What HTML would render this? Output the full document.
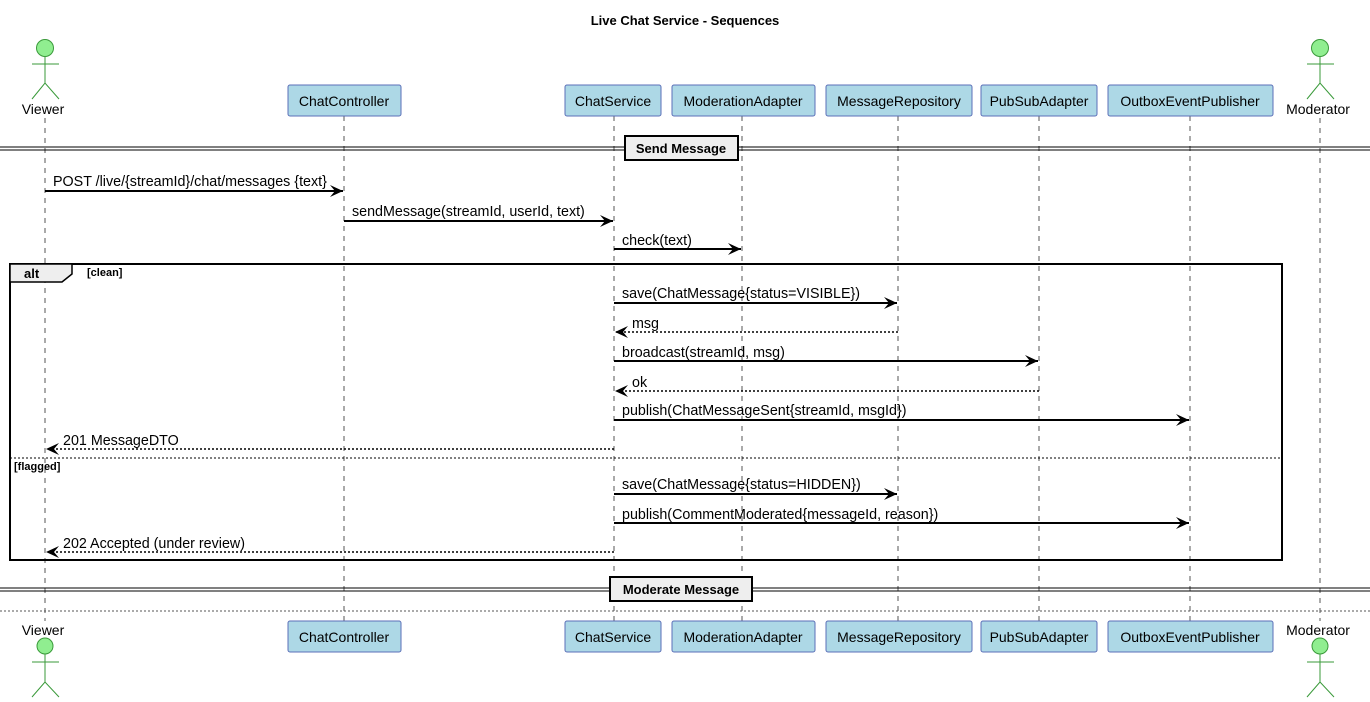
<!DOCTYPE html>
<html><head><meta charset="utf-8"><style>
html,body{margin:0;padding:0;background:#fff}
svg{display:block}
text{font-family:"Liberation Sans",sans-serif;font-size:14.3px;fill:#000}
.p{font-size:14px}
.b{font-weight:bold;font-size:13px}
.ll{stroke:#555;stroke-width:1;stroke-dasharray:5,5}
.box{fill:#add8e6;stroke:#5b6fb8;stroke-width:1}
.m{stroke:#000;stroke-width:2}
.r{stroke:#000;stroke-width:1.6;stroke-dasharray:2,2}
.act{stroke:#3a9a3a;fill:none;stroke-width:1}
</style></head><body>
<svg width="1370" height="702" viewBox="0 0 1370 702" xmlns="http://www.w3.org/2000/svg">
<defs>
<marker id="a" markerWidth="14" markerHeight="12" refX="13" refY="6" orient="auto" markerUnits="userSpaceOnUse">
<path d="M0,0 L13,6 L0,12 L5,6 Z" fill="#000"/></marker>
</defs>
<text x="685" y="25" text-anchor="middle" class="b">Live Chat Service - Sequences</text>

<g class="ll">
<line x1="45" y1="118" x2="45" y2="621"/>
<line x1="344" y1="116" x2="344" y2="621"/>
<line x1="614" y1="116" x2="614" y2="621"/>
<line x1="742" y1="116" x2="742" y2="621"/>
<line x1="898" y1="116" x2="898" y2="621"/>
<line x1="1039" y1="116" x2="1039" y2="621"/>
<line x1="1190" y1="116" x2="1190" y2="621"/>
<line x1="1320" y1="118" x2="1320" y2="621"/>
</g>

<g>
<rect class="box" x="288" y="85" width="113" height="31" rx="2"/><text class="p" x="344" y="106" text-anchor="middle">ChatController</text>
<rect class="box" x="565" y="85" width="96" height="31" rx="2"/><text class="p" x="613" y="106" text-anchor="middle">ChatService</text>
<rect class="box" x="672" y="85" width="143" height="31" rx="2"/><text class="p" x="743" y="106" text-anchor="middle">ModerationAdapter</text>
<rect class="box" x="826" y="85" width="146" height="31" rx="2"/><text class="p" x="899" y="106" text-anchor="middle">MessageRepository</text>
<rect class="box" x="981" y="85" width="116" height="31" rx="2"/><text class="p" x="1039" y="106" text-anchor="middle">PubSubAdapter</text>
<rect class="box" x="1108" y="85" width="165" height="31" rx="2"/><text class="p" x="1190" y="106" text-anchor="middle">OutboxEventPublisher</text>
</g>
<g>
<rect class="box" x="288" y="621" width="113" height="31" rx="2"/><text class="p" x="344" y="642" text-anchor="middle">ChatController</text>
<rect class="box" x="565" y="621" width="96" height="31" rx="2"/><text class="p" x="613" y="642" text-anchor="middle">ChatService</text>
<rect class="box" x="672" y="621" width="143" height="31" rx="2"/><text class="p" x="743" y="642" text-anchor="middle">ModerationAdapter</text>
<rect class="box" x="826" y="621" width="146" height="31" rx="2"/><text class="p" x="899" y="642" text-anchor="middle">MessageRepository</text>
<rect class="box" x="981" y="621" width="116" height="31" rx="2"/><text class="p" x="1039" y="642" text-anchor="middle">PubSubAdapter</text>
<rect class="box" x="1108" y="621" width="165" height="31" rx="2"/><text class="p" x="1190" y="642" text-anchor="middle">OutboxEventPublisher</text>
</g>

<g>
<circle cx="45" cy="48" r="8.5" fill="#90ee90" stroke="#3a9a3a"/>
<path class="act" d="M45,57 V83 M32,64 H59 M32,99 L45,83 L59,99"/>
<text class="p" x="43" y="114" text-anchor="middle">Viewer</text>
<circle cx="1320" cy="48" r="8.5" fill="#90ee90" stroke="#3a9a3a"/>
<path class="act" d="M1320,57 V83 M1307,64 H1334 M1307,99 L1320,83 L1334,99"/>
<text class="p" x="1318" y="114" text-anchor="middle">Moderator</text>

<text class="p" x="43" y="635" text-anchor="middle">Viewer</text>
<circle cx="45" cy="646" r="8" fill="#90ee90" stroke="#3a9a3a"/>
<path class="act" d="M45,654 V682 M32,662 H59 M32,697 L45,682 L59,697"/>
<text class="p" x="1318" y="635" text-anchor="middle">Moderator</text>
<circle cx="1320" cy="646" r="8" fill="#90ee90" stroke="#3a9a3a"/>
<path class="act" d="M1320,654 V682 M1307,662 H1334 M1307,697 L1320,682 L1334,697"/>
</g>

<line x1="0" y1="147" x2="1370" y2="147" stroke="#000"/>
<line x1="0" y1="150" x2="1370" y2="150" stroke="#000"/>
<rect x="625" y="136" width="113" height="24" fill="#eee" stroke="#000" stroke-width="2"/>
<text x="681" y="153" text-anchor="middle" class="b">Send Message</text>

<line class="m" x1="45" y1="191" x2="343" y2="191" marker-end="url(#a)"/>
<text x="53" y="186">POST /live/{streamId}/chat/messages {text}</text>
<line class="m" x1="344" y1="221" x2="613" y2="221" marker-end="url(#a)"/>
<text x="352" y="216">sendMessage(streamId, userId, text)</text>
<line class="m" x1="614" y1="249" x2="741" y2="249" marker-end="url(#a)"/>
<text x="622" y="245">check(text)</text>

<rect x="10" y="264" width="1272" height="296" fill="none" stroke="#000" stroke-width="2"/>
<path d="M10,264 H72 V274 L62,282 H10 Z" fill="#eee" stroke="#000" stroke-width="1.5"/>
<text x="24" y="278" class="b">alt</text>
<text x="87" y="276" class="b" style="font-size:11px">[clean]</text>

<line class="m" x1="614" y1="303" x2="897" y2="303" marker-end="url(#a)"/>
<text x="622" y="298">save(ChatMessage{status=VISIBLE})</text>
<line class="r" x1="898" y1="332" x2="615" y2="332" marker-end="url(#a)"/>
<text x="632" y="328">msg</text>
<line class="m" x1="614" y1="361" x2="1038" y2="361" marker-end="url(#a)"/>
<text x="622" y="357">broadcast(streamId, msg)</text>
<line class="r" x1="1039" y1="391" x2="615" y2="391" marker-end="url(#a)"/>
<text x="632" y="387">ok</text>
<line class="m" x1="614" y1="420" x2="1189" y2="420" marker-end="url(#a)"/>
<text x="622" y="415">publish(ChatMessageSent{streamId, msgId})</text>
<line class="r" x1="614" y1="449" x2="46" y2="449" marker-end="url(#a)"/>
<text x="63" y="445">201 MessageDTO</text>

<line x1="10" y1="458" x2="1282" y2="458" stroke="#000" stroke-dasharray="2,2"/>
<text x="14" y="470" class="b" style="font-size:11px">[flagged]</text>

<line class="m" x1="614" y1="494" x2="897" y2="494" marker-end="url(#a)"/>
<text x="622" y="489">save(ChatMessage{status=HIDDEN})</text>
<line class="m" x1="614" y1="523" x2="1189" y2="523" marker-end="url(#a)"/>
<text x="622" y="519">publish(CommentModerated{messageId, reason})</text>
<line class="r" x1="614" y1="552" x2="46" y2="552" marker-end="url(#a)"/>
<text x="63" y="548">202 Accepted (under review)</text>

<line x1="0" y1="588" x2="1370" y2="588" stroke="#000"/>
<line x1="0" y1="591" x2="1370" y2="591" stroke="#000"/>
<rect x="610" y="577" width="142" height="24" fill="#eee" stroke="#000" stroke-width="2"/>
<text x="681" y="594" text-anchor="middle" class="b">Moderate Message</text>
<line x1="0" y1="611" x2="1370" y2="611" stroke="#555" stroke-dasharray="2,2"/>
</svg>
</body></html>
